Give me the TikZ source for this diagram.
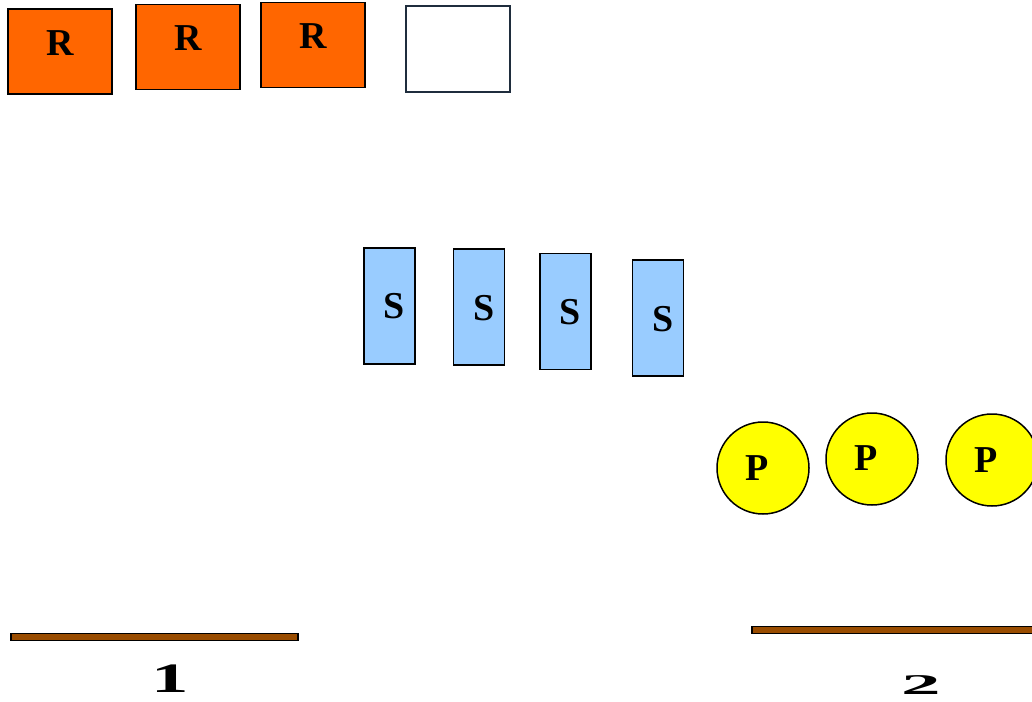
\documentclass[tikz,border=0pt]{standalone}
\usepackage{fontspec}
\setmainfont{Liberation Serif}
\usepackage{graphicx}
\usetikzlibrary{positioning}
\definecolor{rorange}{HTML}{FF6600}
\definecolor{sblue}{HTML}{99CCFF}
\definecolor{pyellow}{HTML}{FFFF00}
\definecolor{barbrown}{HTML}{994C00}
\definecolor{slate}{HTML}{1F2D3D}
\tikzset{
x=1pt, y=-1pt, % one unit is one pixel of the reference, y goes down
every node/.style={font=\fontsize{38}{40}\selectfont\bfseries, inner sep=0pt}, % big bold letters
rbox/.style={draw=black, line width=1.5pt, fill=rorange, minimum width=104pt, minimum height=85pt},
emptybox/.style={draw=slate, line width=1.5pt, fill=white, minimum width=104pt, minimum height=86pt},
sbox/.style={draw=black, line width=1.5pt, fill=sblue, minimum width=51pt, minimum height=116pt},
pball/.style={circle, draw=black, line width=1.5pt, fill=pyellow, minimum size=92pt},
bar/.style={draw=black, line width=1.5pt, fill=barbrown, minimum height=7pt, inner sep=0pt},
digit/.style={anchor=base, font=\fontsize{44}{46}\selectfont\bfseries},
}
\begin{document}
\begin{tikzpicture}
                \clip (0,0) rectangle (1032,701);
                \fill[white] (0,0) rectangle (1032,701);
                % top row
                \node[rbox, label={[yshift=8pt]center:R}] (r1) at (60,51.5) {};
                \node[rbox, label={[yshift=9pt]center:R}] (r2) at (188,47) {};
                \node[rbox, label={[yshift=9pt]center:R}] (r3) at (313,45) {};
                \node[emptybox] (r4) at (458,49) {};
                % middle row
                \node[sbox, label={[xshift=5pt]center:S}] (s1) at (389.5,306) {};
                \node[sbox, label={[xshift=5pt,yshift=-1pt]center:S}] (s2) at (479,307) {};
                \node[sbox, label={[xshift=5pt,yshift=-1pt]center:S}] (s3) at (565.5,311.5) {};
                \node[sbox, label={[xshift=5pt,yshift=-1pt]center:S}] (s4) at (658,318) {};
                % balls
                \node[pball, label={[xshift=-6pt]center:P}] (p1) at (763,468) {};
                \node[pball, label={[xshift=-6pt,yshift=1pt]center:P}] (p2) at (872,459) {};
                \node[pball, label={[xshift=-6pt]center:P}] (p3) at (992,460) {};
                % bars and numbers
                \node[bar, minimum width=287pt] (bar1) at (154.5,637) {};
                \node[bar, minimum width=300pt] (bar2) at (902,630) {};
                \node[digit] (n1) at (170,692) {\scalebox{1.7}[0.95]{1}};
                \node[digit] (n2) at (921,694) {\scalebox{1.8}[0.65]{2}};
                \end{tikzpicture}
\end{document}
